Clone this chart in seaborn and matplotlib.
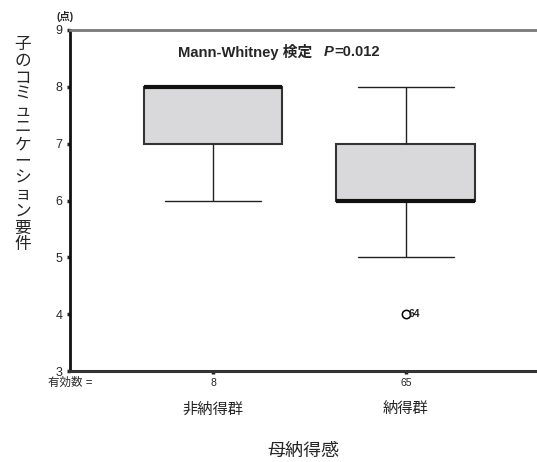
import numpy as np
import pandas as pd
import matplotlib
matplotlib.use("Agg")
import matplotlib.pyplot as plt
import seaborn as sns
from matplotlib.transforms import blended_transform_factory

# ---- data ----
categories = ["非納得群", "納得群"]
counts = [8, 65]
# score frequencies per group (score -> count)
scores = [4, 5, 6, 7, 8]
freq_non = [0, 0, 1, 2, 5]      # n = 8
freq_yes = [1, 8, 28, 20, 8]    # n = 65
outlier_case = "64"
yticks = [3, 4, 5, 6, 7, 8, 9]

rows = []
for cat, fr in zip(categories, [freq_non, freq_yes]):
    for s, f in zip(scores, fr):
        rows += [(cat, s)] * f
df = pd.DataFrame(rows, columns=["group", "score"])

sns.set_style("white")
plt.rcParams["font.family"] = ["Liberation Sans", "Noto Sans CJK JP", "DejaVu Sans"]

fig = plt.figure(figsize=(5.37, 4.62), dpi=100)
ax = fig.add_axes([70 / 537, 1 - 371 / 462, 1 - 70 / 537, (371 - 30) / 462])

sns.boxplot(
    data=df, x="group", y="score", order=categories, ax=ax,
    color="#d9d9db", saturation=1, width=0.72, linecolor="#333333",
    linewidth=1.5, fliersize=6,
    flierprops=dict(marker="o", markerfacecolor="none", markeredgecolor="black",
                    markeredgewidth=1.1),
    medianprops=dict(color="#111111", linewidth=3),
    whiskerprops=dict(color="#222222", linewidth=1),
    capprops=dict(color="#222222", linewidth=1),
    capwidths=0.5,
)

ax.set_ylim(3, 9)
ax.set_xlim(-0.741, 1.679)
ax.set_yticks(yticks)
ax.set_yticklabels([str(t) for t in yticks], fontsize=9)
ax.set_xticks(range(len(categories)))
ax.set_xticklabels(categories, fontsize=11)
ax.tick_params(axis="x", pad=20, length=2.5, width=2.5, direction="out", bottom=True, color="#222222")
ax.tick_params(axis="y", pad=3, length=2.5, width=2.5, direction="out", left=True, color="#222222")
ax.set_xlabel("母納得感", fontsize=13, labelpad=19)
ax.set_ylabel("")

for side, col, lw in [("left", "#111111", 2.0), ("bottom", "#333333", 2.2), ("top", "#7a7a7a", 2.0)]:
    ax.spines[side].set_visible(True)
    ax.spines[side].set_color(col)
    ax.spines[side].set_linewidth(lw)
ax.spines["right"].set_visible(False)

# counts under the ticks
trans = blended_transform_factory(ax.transData, ax.transAxes)
for i, n in enumerate(counts):
    ax.text(i, -0.036, str(n), transform=trans, ha="center", va="center", fontsize=7.5)
ax.text(0.0, -0.036, "有効数 =", transform=ax.transAxes, ha="center", va="center", fontsize=8.3)

# unit label
ax.text(-0.011, 1.04, "(点)", transform=ax.transAxes, ha="center", va="center",
        fontsize=7.5, fontweight="bold")

# outlier case label
ax.annotate(outlier_case, xy=(1, 4), xytext=(2.2, 0), textcoords="offset points",
            ha="left", va="center", fontsize=7.5, fontweight="bold")

# test annotation
ann_y = 0.935
t1 = ax.text(0.231, ann_y, "Mann-Whitney 検定", transform=ax.transAxes,
             ha="left", va="center", fontsize=10.6, fontweight="bold")
fig.canvas.draw()
bb = t1.get_window_extent()
fy = ax.transAxes.transform((0, ann_y))[1] / fig.bbox.height
t2 = fig.text((bb.x1 + 12) / fig.bbox.width, fy, "P", ha="left", va="center",
              fontsize=10.6, fontweight="bold", style="italic")
fig.canvas.draw()
bb2 = t2.get_window_extent()
fig.text(bb2.x1 / fig.bbox.width, fy, "=0.012", ha="left", va="center",
         fontsize=10.6, fontweight="bold")

# vertical (tategaki) y label
ylabel = "子のコミュニケーション要件"
fig.text(23 / 537, 1 - 37 / 462, "\n".join(ylabel), ha="center", va="top",
         fontsize=12, linespacing=1.14)

fig.savefig("out.png", dpi=100)
